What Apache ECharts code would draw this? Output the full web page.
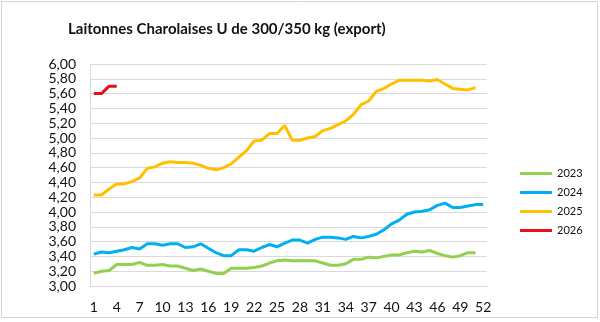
<!DOCTYPE html>
<html><head><meta charset="utf-8">
<script src="https://cdn.jsdelivr.net/npm/echarts@6/dist/echarts.min.js"></script>
<style>html,body{margin:0;padding:0;background:#fff}#c{width:600px;height:322px}</style>
</head><body><div id="c"></div>
<script>
var weeks = [];
for (var i = 1; i <= 52; i++) weeks.push(String(i));
var s2023 = [3.17,3.20,3.21,3.29,3.29,3.29,3.32,3.28,3.28,3.29,3.27,3.27,3.24,3.21,3.23,3.20,3.17,3.17,3.24,3.24,3.24,3.25,3.27,3.31,3.34,3.35,3.34,3.34,3.34,3.34,3.31,3.28,3.28,3.30,3.36,3.36,3.39,3.38,3.40,3.42,3.42,3.45,3.47,3.46,3.48,3.44,3.41,3.39,3.41,3.45,3.45];
var s2024 = [3.43,3.46,3.45,3.47,3.49,3.52,3.50,3.57,3.57,3.55,3.57,3.57,3.52,3.53,3.57,3.51,3.45,3.41,3.41,3.49,3.49,3.47,3.52,3.56,3.53,3.58,3.62,3.62,3.58,3.63,3.66,3.66,3.65,3.63,3.67,3.65,3.67,3.70,3.76,3.84,3.89,3.97,4.00,4.01,4.03,4.09,4.12,4.06,4.06,4.08,4.10,4.10];
var s2025 = [4.23,4.23,4.31,4.38,4.38,4.41,4.46,4.59,4.61,4.66,4.68,4.67,4.67,4.66,4.63,4.59,4.57,4.60,4.65,4.74,4.83,4.96,4.97,5.06,5.06,5.17,4.97,4.97,5.00,5.02,5.10,5.13,5.18,5.23,5.32,5.45,5.50,5.63,5.67,5.73,5.78,5.78,5.78,5.78,5.77,5.79,5.73,5.67,5.66,5.65,5.68];
var s2026 = [5.60,5.60,5.70,5.70];
var seriesNames = ['2023','2024','2025','2026'];
var colors = ['#92d050','#00b0f0','#ffc000','#e8101a'];
var dataSets = [s2023, s2024, s2025, s2026];

var chart = echarts.init(document.getElementById('c'), null, {renderer:'canvas'});
var font = 'Lato, "Open Sans", sans-serif';
chart.setOption({
  animation: false,
  backgroundColor: '#fff',
  title: {
    text: 'Laitonnes Charolaises U de 300/350 kg (export)',
    left: 63, top: 17,
    textStyle: {fontFamily: font, fontSize: 15, fontWeight: 'bold', color: '#111'}
  },
  graphic: [{
    type: 'rect', shape: {x: 1.5, y: 1.5, width: 596, height: 316},
    style: {fill: 'none', stroke: '#d4d4d4', lineWidth: 1}, silent: true
  }],
  legend: {
    orient: 'vertical', left: 515, top: 163,
    itemWidth: 32, itemHeight: 3, itemGap: 8,
    icon: 'rect',
    data: seriesNames,
    textStyle: {fontFamily: font, fontSize: 11, color: '#111'}
  },
  grid: {left: 90, right: 113, top: 64, bottom: 36, containLabel: false},
  xAxis: {
    type: 'category', data: weeks, boundaryGap: true,
    axisLine: {show: true, lineStyle: {color: '#d9d9d9'}},
    axisTick: {show: false},
    axisLabel: {interval: 2, margin: 14, fontFamily: font, fontSize: 14, color: '#111'}
  },
  yAxis: {
    type: 'value', min: 3, max: 6, interval: 0.2,
    axisLine: {show: true, lineStyle: {color: '#d9d9d9'}},
    axisTick: {show: false},
    splitLine: {lineStyle: {color: '#d9d9d9', width: 1}},
    axisLabel: {margin: 14, fontFamily: font, fontSize: 14, color: '#111',
      formatter: function (v) { return v.toFixed(2).replace('.', ','); }}
  },
  series: seriesNames.map(function (n, k) {
    return {
      name: n, type: 'line', data: dataSets[k], showSymbol: false, symbol: 'none',
      lineStyle: {color: colors[k], width: 3}, itemStyle: {color: colors[k]},
      smooth: false
    };
  })
});
</script></body></html>
